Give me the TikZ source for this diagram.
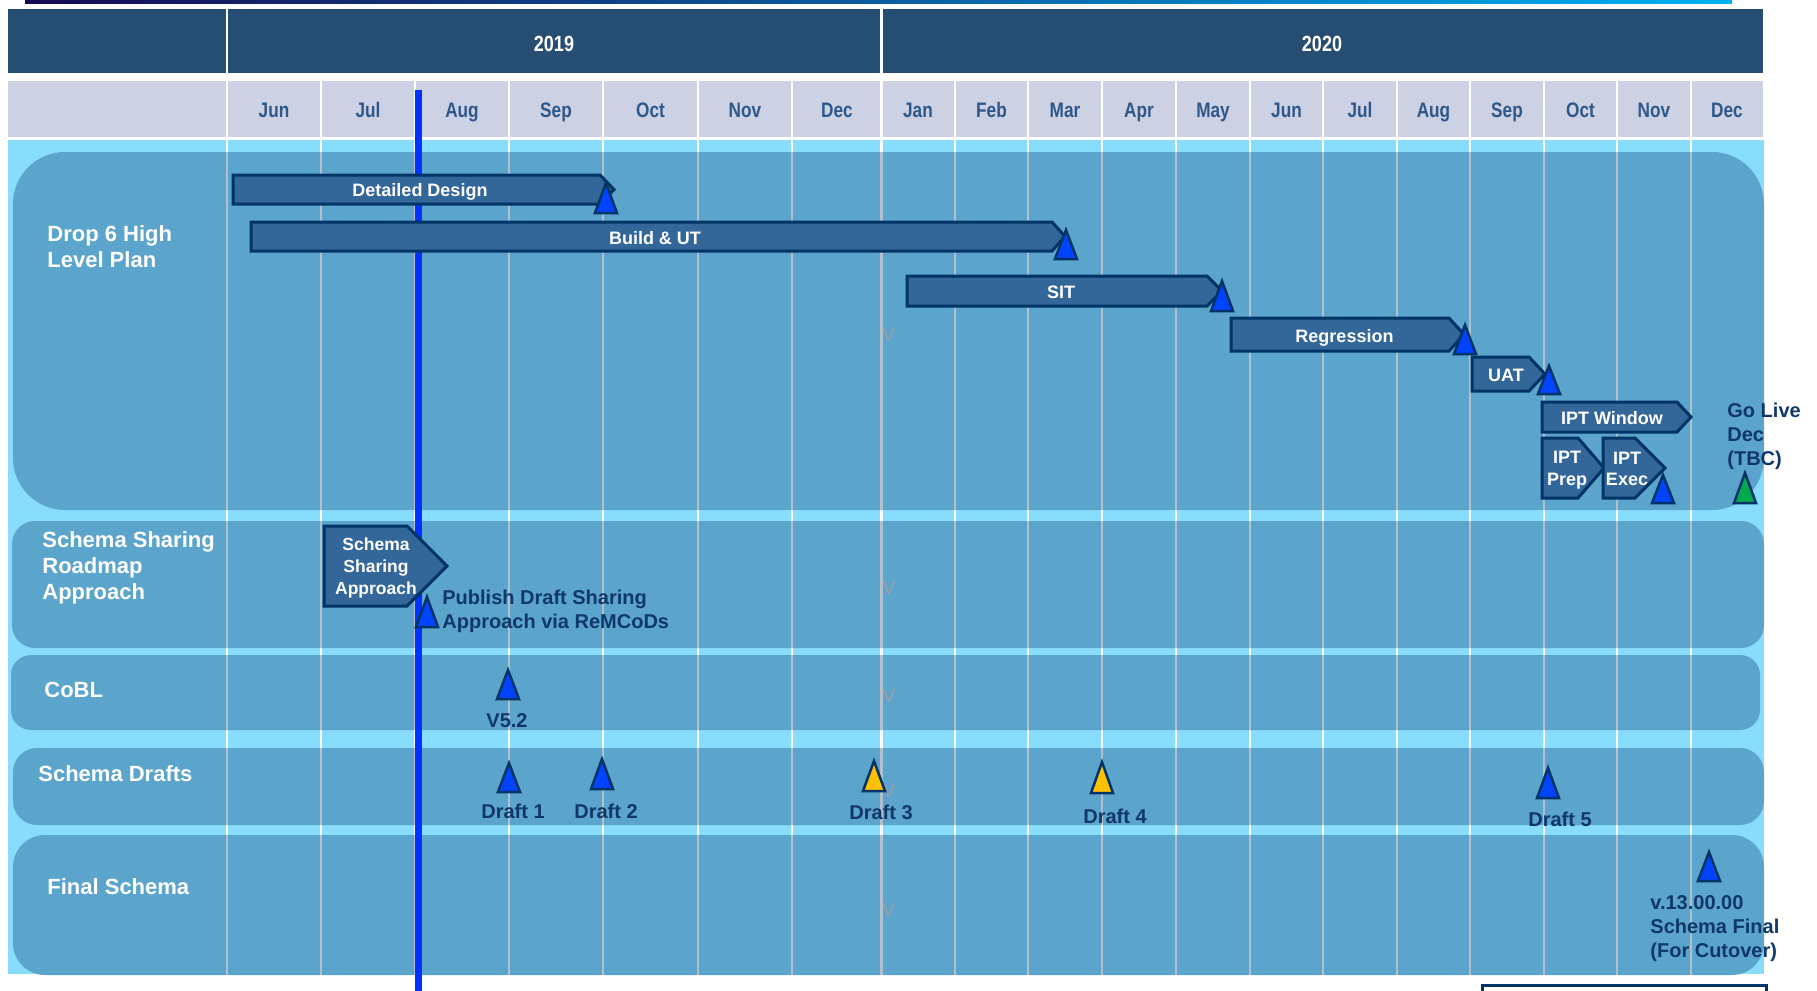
\documentclass[tikz,border=0pt]{standalone}
\usepackage{fontspec}
\setmainfont{Liberation Sans}
\newfontfamily\narrowfont[FakeStretch=0.82]{Liberation Sans}
\usepackage{tikz}
\usetikzlibrary{positioning,calc}
\definecolor{headerblue}{RGB}{38,78,115}
\definecolor{monthgrey}{RGB}{204,209,227}
\definecolor{monthtext}{RGB}{47,88,138}
\definecolor{bodycyan}{RGB}{137,221,252}
\definecolor{lanefill}{RGB}{91,164,203}
\definecolor{gridgrey}{RGB}{178,192,206}
\definecolor{barfill}{RGB}{51,102,153}
\definecolor{barline}{RGB}{0,51,102}
\definecolor{msblue}{RGB}{0,68,255}
\definecolor{msyellow}{RGB}{255,192,0}
\definecolor{msgreen}{RGB}{0,170,80}
\definecolor{labelnavy}{RGB}{15,56,104}
\definecolor{todayblue}{RGB}{0,51,255}
\definecolor{markgrey}{RGB}{158,158,168}
\definecolor{gradleft}{RGB}{22,10,82}
\definecolor{gradright}{RGB}{0,176,240}

\tikzset{
    lane/.style={fill=lanefill},
    gridline/.style={draw=white, line width=1.25pt},
    gridover/.style={draw=gridgrey, line width=1.25pt},
    taskbar/.style={fill=barfill, draw=barline, line width=1.5pt},
    tasklabel/.style={text=white, font=\bfseries\fontsize{9}{10.85}\selectfont, align=center, inner sep=0pt},
    milestone/.style={draw=barline, line width=1.25pt},
    lanelabel/.style={text=white, font=\bfseries\fontsize{11}{13}\selectfont, align=left, inner sep=0pt},
    notelabel/.style={text=labelnavy, font=\bfseries\fontsize{10}{12}\selectfont, align=left, inner sep=0pt},
    monthlabel/.style={text=monthtext, font=\narrowfont\bfseries\fontsize{10.5}{12}\selectfont, anchor=base, inner sep=0pt},
    yearlabel/.style={text=white, font=\narrowfont\bfseries\fontsize{11}{13}\selectfont, anchor=base, inner sep=0pt},
    vmark/.style={text=markgrey, font=\fontsize{9.5}{10}\selectfont, anchor=base, inner sep=0pt}
}

\begin{document}
\begin{tikzpicture}[x=0.5pt, y=-0.5pt]
    \useasboundingbox (0,0) rectangle (1817,991);
    \clip (0,0) rectangle (1817,991);

    % Top rule
    \shade[left color=gradleft, right color=gradright] (25,0) rectangle (1732,3.5);

    % Year and month headers
    \fill[headerblue] (8,9) rectangle (1763,73);
    \fill[monthgrey] (8,81) rectangle (1763,137);
    \fill[bodycyan] (8,139.5) rectangle (1764,974);
    \foreach \gx in {227,881.5}
        \draw[gridline] (\gx,9) -- (\gx,73);
    \foreach \gx in {227,321,415,509,603,698,792,881.5,955,1028,1102,1176,1250,1323,1397,1470,1544,1617,1691}
        \draw[gridline] (\gx,81) -- (\gx,974);

    \node[yearlabel] (year2019) at (554,51.5) {2019};
    \node[yearlabel] (year2020) at (1322,51.5) {2020};
    \foreach \mx/\mname [count=\i] in {274/Jun,368/Jul,462/Aug,556/Sep,650.5/Oct,745/Nov,837/Dec,918/Jan,991.5/Feb,1065/Mar,1139/Apr,1213/May,1286.5/Jun,1360/Jul,1433.5/Aug,1507/Sep,1580.5/Oct,1654/Nov,1727/Dec}
        \node[monthlabel] (month\i) at (\mx,117) {\mname};

    % Swim lanes
    \fill[lane, rounded corners=26pt] (13,152) rectangle (1764,510);
    \fill[lane, rounded corners=11.5pt] (12,521) rectangle (1764,648);
    \fill[lane, rounded corners=10pt] (11,655) rectangle (1760,730);
    \fill[lane, rounded corners=12pt] (13,748) rectangle (1764,825);
    \fill[lane, rounded corners=16pt] (13,835) rectangle (1764,975);
    \foreach \lanetop/\lanebot in {152/510,521/648,655/730,748/825,835/975}
        \foreach \gx in {227,321,415,509,603,698,792,881.5,955,1028,1102,1176,1250,1323,1397,1470,1544,1617,1691}
            \draw[gridover] (\gx,\lanetop) -- (\gx,\lanebot);

    \foreach \vy [count=\i] in {341,594,702,797,916}
        \node[vmark] (vmark\i) at (889,\vy) {V};

    % Today
    \draw[todayblue, line width=3.5pt] (418.5,90) -- (418.5,991);

    % Lane titles
    \node[lanelabel, anchor=west] (dropLabel) at (47,246.5) {Drop 6 High\\Level Plan};
    \node[lanelabel, anchor=west] (sharingLabel) at (42,568) {Schema Sharing\\Roadmap\\Approach};
    \node[lanelabel, anchor=base west] (coblLabel) at (44,697) {CoBL};
    \node[lanelabel, anchor=base west] (draftsLabel) at (38,781) {Schema Drafts};
    \node[lanelabel, anchor=base west] (finalLabel) at (47,894) {Final Schema};

    % Tasks
    \draw[taskbar] (233,175) -- (600,175) -- (614,189.5) -- (600,204) -- (233,204) -- cycle;
    \node[tasklabel, anchor=base] (detailed) at (420,196.7) {Detailed Design};
    \draw[taskbar] (251,222) -- (1052,222) -- (1065,236.5) -- (1052,251) -- (251,251) -- cycle;
    \node[tasklabel, anchor=base] (build) at (655,244) {Build \& UT};
    \draw[taskbar] (907,276) -- (1207,276) -- (1222,291) -- (1207,306) -- (907,306) -- cycle;
    \node[tasklabel, anchor=base] (sit) at (1061,298) {SIT};
    \draw[taskbar] (1231,318) -- (1449,318) -- (1464,334.5) -- (1449,351) -- (1231,351) -- cycle;
    \node[tasklabel, anchor=base] (regression) at (1344.5,342) {Regression};
    \draw[taskbar] (1472,357) -- (1529,357) -- (1545,374) -- (1529,391) -- (1472,391) -- cycle;
    \node[tasklabel, anchor=base] (uat) at (1506,381.7) {UAT};
    \draw[taskbar] (1542,402) -- (1677,402) -- (1691,417) -- (1677,432) -- (1542,432) -- cycle;
    \node[tasklabel, anchor=base] (iptWindow) at (1612,424) {IPT Window};
    \draw[taskbar] (1542,438) -- (1578,438) -- (1604,468) -- (1578,498) -- (1542,498) -- cycle;
    \node[tasklabel] (iptPrep) at (1567,470.5) {IPT\\Prep};
    \draw[taskbar] (1603,438) -- (1635,438) -- (1665,468) -- (1635,498) -- (1603,498) -- cycle;
    \node[tasklabel] (iptExec) at (1627,469) {IPT\\Exec};
    \draw[taskbar] (324,526) -- (407,526) -- (447,566) -- (407,606) -- (324,606) -- cycle;
    \node[tasklabel, font=\bfseries\fontsize{8.75}{10.85}\selectfont] (sharing) at (376,568) {Schema\\Sharing\\Approach};

    % Milestones
    \foreach \mx/\mtop/\mbase/\mcol in {606/183/213/msblue, 1066/230/259/msblue, 1222/281/311/msblue,
        1465/325/354/msblue, 1549/366/394/msblue, 1663/475/503/msblue, 1745/473/503/msgreen,
        427/597/627/msblue, 508/670/699/msblue, 509/763/792/msblue, 602/759/789/msblue,
        874/761/791/msyellow, 1102/762/793/msyellow, 1548/768/798/msblue, 1709/852/881/msblue}
        \draw[milestone, fill=\mcol] (\mx-11,\mbase) -- (\mx,\mtop) -- (\mx+11,\mbase) -- cycle;

    % Milestone notes
    \node[notelabel, anchor=west] (goLive) at (1727,436) {Go Live\\Dec\\(TBC)};
    \node[notelabel, anchor=west] (publish) at (442,611) {Publish Draft Sharing\\Approach via ReMCoDs};
    \node[notelabel, anchor=base] (cobl52) at (507,727) {V5.2};
    \node[notelabel, anchor=base] (draft1) at (513,818) {Draft 1};
    \node[notelabel, anchor=base] (draft2) at (606,818) {Draft 2};
    \node[notelabel, anchor=base] (draft3) at (881,819) {Draft 3};
    \node[notelabel, anchor=base] (draft4) at (1115,823) {Draft 4};
    \node[notelabel, anchor=base] (draft5) at (1560,826) {Draft 5};
    \node[notelabel, anchor=west] (finalNote) at (1650,929) {v.13.00.00\\Schema Final\\(For Cutover)};

    % Box cut by the page edge
    \draw[draw=barline, line width=1.5pt, fill=white] (1482,1000) rectangle (1766,985);
\end{tikzpicture}
\end{document}
